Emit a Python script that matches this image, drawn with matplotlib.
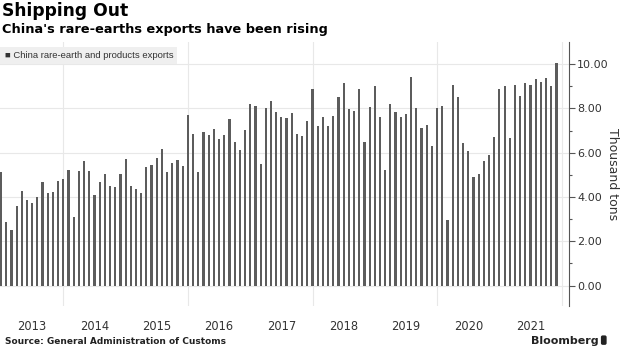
import numpy as np
import matplotlib
matplotlib.use("Agg")
import matplotlib.pyplot as plt
from matplotlib.ticker import FormatStrFormatter, FixedLocator

# Monthly exports, thousand tons, Jan 2013 - Dec 2021
exports = [
    5.12, 2.89, 2.53, 3.60, 4.25, 3.86, 3.72, 3.99, 4.70, 4.19, 4.22, 4.73,  # 2013
    4.80, 5.23, 3.09, 5.17, 5.62, 5.17, 4.08, 4.67, 5.05, 4.50, 4.47, 5.03,  # 2014
    5.71, 4.49, 4.35, 4.20, 5.36, 5.45, 5.74, 6.16, 5.15, 5.53, 5.66, 5.41,  # 2015
    7.71, 6.83, 5.11, 6.92, 6.79, 7.06, 6.60, 6.81, 7.53, 6.48, 6.14, 7.03,  # 2016
    8.19, 8.13, 5.51, 8.01, 8.34, 7.86, 7.62, 7.56, 7.79, 6.84, 6.75, 7.43,  # 2017
    8.89, 7.21, 7.62, 7.21, 7.67, 8.52, 9.16, 7.97, 7.89, 8.90, 6.48, 8.06,  # 2018
    9.02, 7.62, 5.21, 8.19, 7.86, 7.62, 7.76, 9.40, 8.04, 7.11, 7.27, 6.31,  # 2019
    8.01, 8.10, 2.95, 9.04, 8.52, 6.46, 6.08, 4.89, 5.05, 5.62, 5.90, 6.69,  # 2020
    8.87, 9.02, 6.66, 9.07, 8.55, 9.17, 9.08, 9.32, 9.19, 9.37, 9.01, 10.05,  # 2021
]
years = ["2013", "2014", "2015", "2016", "2017", "2018", "2019", "2020", "2021"]
series_name = "China rare-earth and products exports"

months = np.arange(len(exports))

fig = plt.figure(figsize=(6.2, 3.48), dpi=100)
ax = fig.add_axes([0.0, 0.1207, 0.9177, 0.7586])

ax.bar(months, exports, width=0.42, color="#5c5c5c", zorder=3)

ax.set_xlim(-0.2, 109.4)
ax.set_ylim(-0.92, 11.0)

# year labels sit mid-year, grid every second January
ax.set_xticks(months[6::12])
ax.set_xticklabels(years)
ax.xaxis.set_minor_locator(FixedLocator([12, 36, 60, 84, 108]))
ax.tick_params(axis="x", which="both", length=0, pad=10, labelsize=8.3, colors="#333333")
ax.grid(axis="x", which="minor", color="#e8e8e8", lw=0.8, zorder=0)

ax.yaxis.tick_right()
ax.set_yticks(np.arange(0, 11, 2))
ax.yaxis.set_minor_locator(FixedLocator(np.arange(1, 11, 2)))
ax.yaxis.set_major_formatter(FormatStrFormatter("%.2f"))
ax.tick_params(axis="y", which="major", length=4, width=0.8, color="#555555",
               labelsize=8, labelcolor="#333333", pad=2)
ax.tick_params(axis="y", which="minor", length=2.5, width=0.8, color="#555555")
ax.grid(axis="y", which="major", color="#e8e8e8", lw=0.8, zorder=0)
ax.set_ylabel("Thousand tons", rotation=270, fontsize=9, color="#333333",
              va="center", ha="center")
ax.yaxis.set_label_coords(1.076, 0.5)

for side in ["left", "top", "bottom"]:
    ax.spines[side].set_visible(False)
ax.spines["right"].set_color("#555555")
ax.spines["right"].set_linewidth(0.8)

# legend box
ax.text(0.008, 0.965, "\u25a0 " + series_name, transform=ax.transAxes,
        fontsize=6.8, color="#333333", va="top", ha="left", family="Liberation Sans",
        bbox=dict(boxstyle="square,pad=0.45", fc="#efefef", ec="none"), zorder=5)

fig.text(0.004, 0.995, "Shipping Out", fontsize=12.3, fontweight="bold",
         va="top", ha="left", color="black")
fig.text(0.004, 0.935, "China's rare-earths exports have been rising", fontsize=9.3,
         fontweight="bold", va="top", ha="left", color="black")
fig.text(0.008, 0.006, "Source: General Administration of Customs", fontsize=6.5,
         fontweight="bold", va="bottom", ha="left", color="#222222")
fig.text(0.965, 0.006, "Bloomberg", fontsize=8, fontweight="bold",
         va="bottom", ha="right", color="#222222")
fig.text(0.972, 0.014, " ", fontsize=5,
         va="bottom", ha="left",
         bbox=dict(boxstyle="round,pad=0.25", fc="#222222", ec="none"))

fig.savefig("out.png", dpi=100)
